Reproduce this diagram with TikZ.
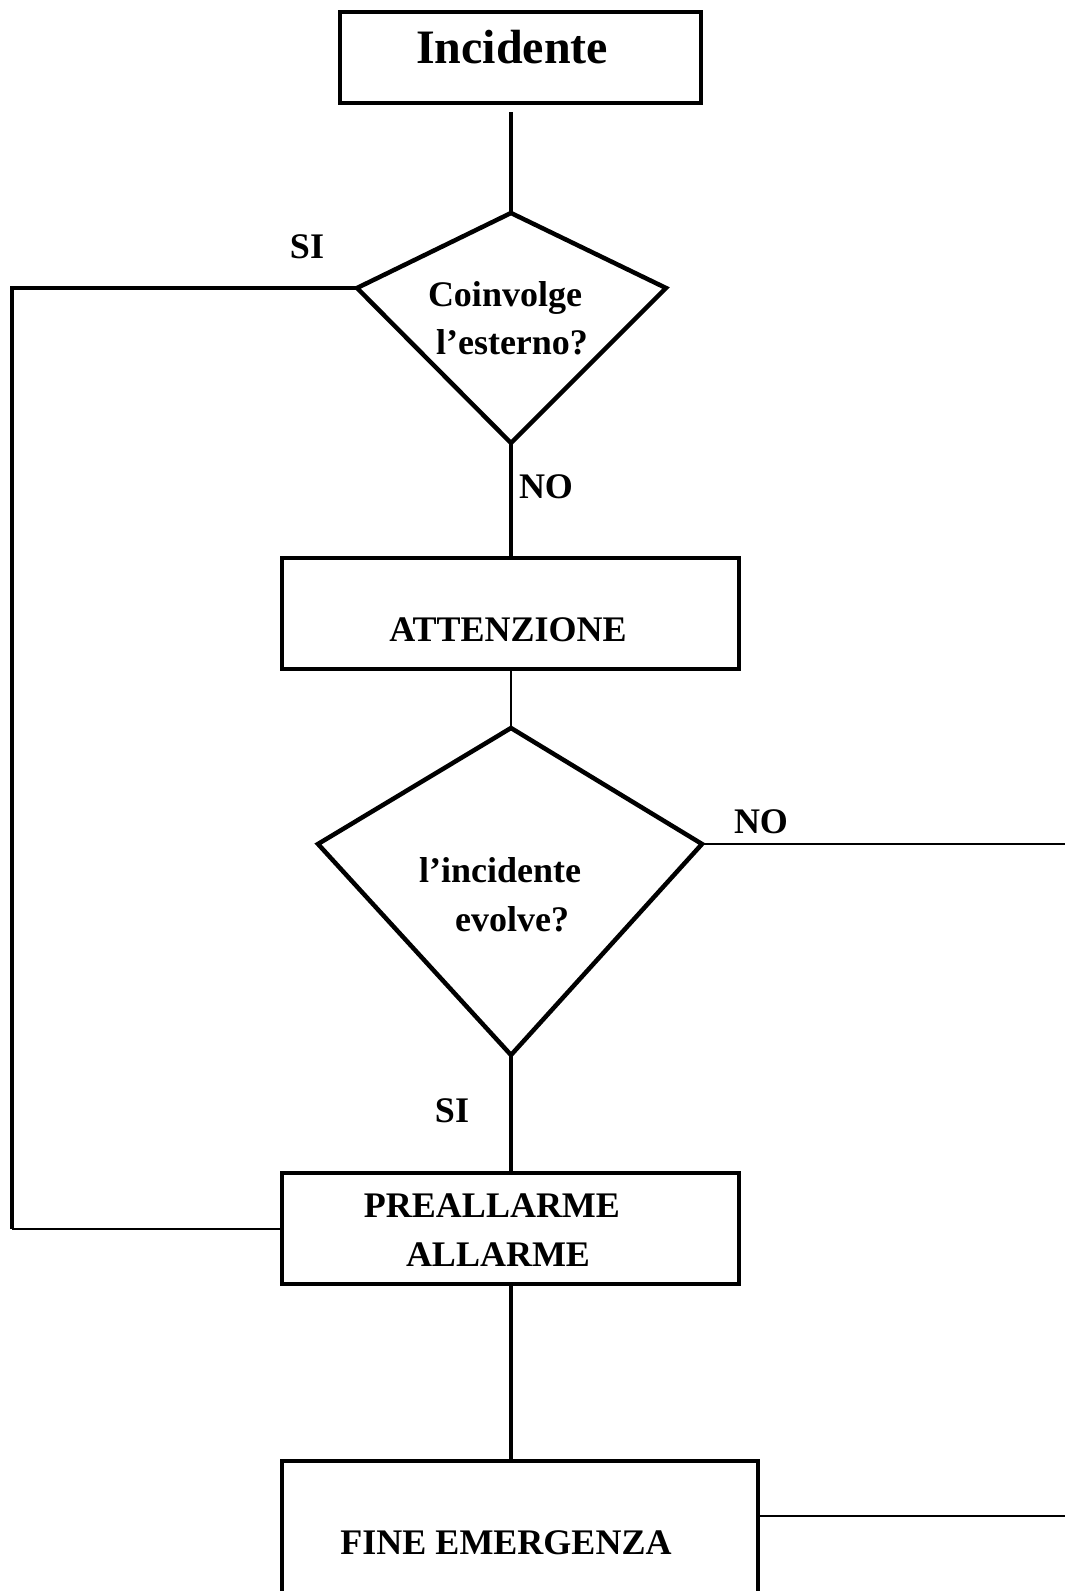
\documentclass[tikz,border=0pt]{standalone}
\usepackage{fontspec}
\setmainfont{Liberation Serif}
\begin{document}
\begin{tikzpicture}[x=1pt,y=-1pt,
  heavy/.style={line width=4.5pt},
  light/.style={line width=1.6pt},
  medium/.style={line width=2.2pt},
  stepbox/.style={draw, line width=4.5pt, rectangle, inner sep=0pt},
  txt/.style={font=\fontsize{36}{40}\selectfont\bfseries, inner sep=0pt,
    text height=0.66em, text depth=0pt, anchor=center},
  bigtxt/.style={font=\fontsize{48}{52}\selectfont\bfseries, inner sep=0pt,
    text height=0.66em, text depth=0pt, anchor=center}
]
\clip (0,0) rectangle (1065,1591);

% process boxes
\node[stepbox, minimum width=361pt, minimum height=91pt] (inc) at (520.5,57.5) {};
\node[stepbox, minimum width=457pt, minimum height=111pt] (att) at (510.5,613.5) {};
\node[stepbox, minimum width=457pt, minimum height=111pt] (pre) at (510.5,1228.5) {};
\node[stepbox, minimum width=476pt, minimum height=260pt] (fin) at (520,1591) {};

% decision corners
\coordinate (d1t) at (511,213);
\coordinate (d1l) at (357,288);
\coordinate (d1r) at (666,288);
\coordinate (d1b) at (511,443);
\coordinate (d2t) at (511,728);
\coordinate (d2l) at (318,844);
\coordinate (d2r) at (702,844);
\coordinate (d2b) at (511,1055);

\draw[heavy, line join=miter] (d1t) -- (d1r) -- (d1b) -- (d1l) -- cycle;
\draw[heavy, line join=miter] (d2t) -- (d2r) -- (d2b) -- (d2l) -- cycle;

% free ends and bends
\coordinate (bend) at (12,1229);
\coordinate (noout) at (1065,844);
\coordinate (finout) at (1065,1516);

% texts
\node[bigtxt] (t-inc) at (512,60) {Incidente};
\node[txt] (t-si1) at (307,255) {SI};
\node[txt] (t-d1a) at (505,303) {Coinvolge};
\node[txt] (t-d1b) at (512,351) {l’esterno?};
\node[txt] (t-no1) at (546,495) {NO};
\node[txt] (t-att) at (508,638) {ATTENZIONE};
\node[txt] (t-no2) at (761,830) {NO};
\node[txt] (t-d2a) at (500,879) {l’incidente};
\node[txt] (t-d2b) at (512,928) {evolve?};
\node[txt] (t-si2) at (452,1119) {SI};
\node[txt] (t-pre1) at (492,1214) {PREALLARME};
\node[txt] (t-pre2) at (498,1263) {ALLARME};
\node[txt] (t-fin) at (506,1551) {FINE EMERGENZA};

% connectors
\draw[heavy, shorten <=7pt] (inc.south -| d1t) -- (d1t);
\draw[heavy] (d1b) -- (att.north -| d1b);
\draw[light] (att.south -| d2t) -- (d2t);
\draw[medium] (d2r) -- (noout);
\draw[heavy] (d2b) -- (pre.north -| d2b);
\draw[heavy, line join=miter] (d1l) -| (bend);
\draw[medium] (bend) -- (pre.west |- bend);
\draw[heavy] (pre.south -| d2b) -- (fin.north -| d2b);
\draw[medium] (fin.east |- finout) -- (finout);
\end{tikzpicture}
\end{document}
